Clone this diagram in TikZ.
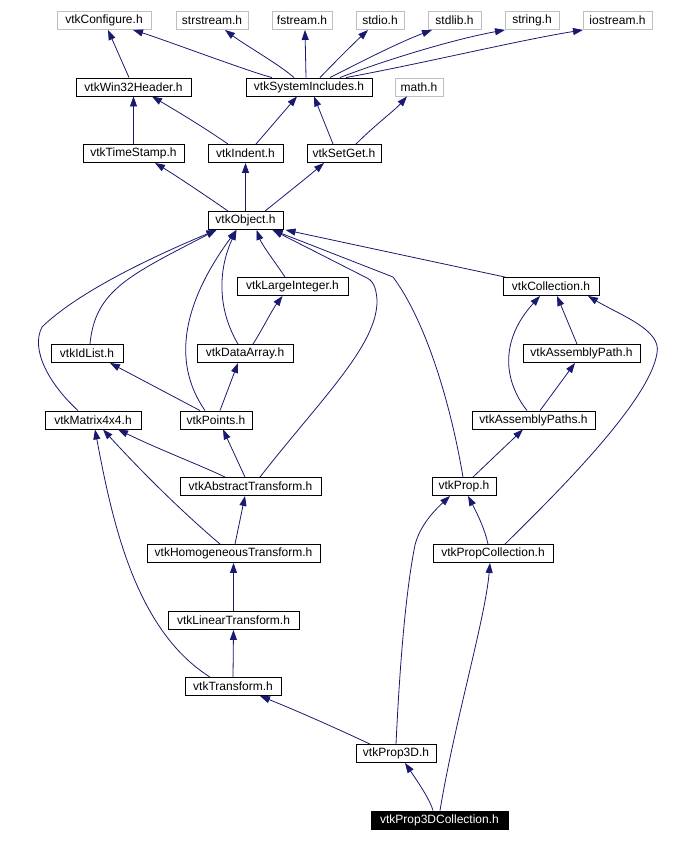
\documentclass[tikz,border=0pt]{standalone}
\usepackage{fontspec}
\setmainfont{Liberation Sans}
\usetikzlibrary{arrows.meta}
\definecolor{edgeblue}{RGB}{25,25,112}
\definecolor{extgray}{RGB}{191,191,191}

\begin{document}
\begin{tikzpicture}[x=1pt,y=-1pt,
  hdr/.style={draw=black, line width=0.9pt, fill=white, inner sep=0pt,
    minimum height=18pt, font=\fontsize{12}{14}\selectfont},
  ext/.style={hdr, draw=extgray},
  cur/.style={hdr, fill=black, text=white},
  dep/.style={draw=edgeblue, line width=0.8pt,
    -{Triangle[length=10pt,width=7pt]}}]
  \useasboundingbox (0,0) rectangle (693,842);

  % 系统头文件（灰框）
  \node[ext, minimum width=94pt] (conf)   at (104,20.5)   {vtkConfigure.h};
  \node[ext, minimum width=72pt] (strs)   at (212,20.5)   {strstream.h};
  \node[ext, minimum width=60pt] (fstr)   at (302,20.5)   {fstream.h};
  \node[ext, minimum width=48pt] (stdio)  at (380,20.5)   {stdio.h};
  \node[ext, minimum width=53pt] (stdlib) at (454.5,20.5) {stdlib.h};
  \node[ext, minimum width=54pt] (string) at (532,20.5)   {string.h};
  \node[ext, minimum width=69pt] (iostr)  at (617.5,20.5) {iostream.h};
  \node[ext, minimum width=48pt] (math)   at (419,87)     {math.h};

  % 内部头文件
  \node[hdr, minimum width=115pt] (win32)    at (133.5,87)    {vtkWin32Header.h};
  \node[hdr, minimum width=126pt] (sysinc)   at (309,87)      {vtkSystemIncludes.h};
  \node[hdr, minimum width=101pt] (tstamp)   at (133.5,153.5) {vtkTimeStamp.h};
  \node[hdr, minimum width=75pt]  (indent)   at (245.5,153.5) {vtkIndent.h};
  \node[hdr, minimum width=74pt]  (setget)   at (344,153.5)   {vtkSetGet.h};
  \node[hdr, minimum width=75pt]  (object)   at (245.5,220.5) {vtkObject.h};
  \node[hdr, minimum width=111pt] (largeint) at (292.5,286.5) {vtkLargeInteger.h};
  \node[hdr, minimum width=96pt]  (coll)     at (551,286.5)   {vtkCollection.h};
  \node[hdr, minimum width=72pt]  (idlist)   at (87,353.5)    {vtkIdList.h};
  \node[hdr, minimum width=96pt]  (darray)   at (245,353.5)   {vtkDataArray.h};
  \node[hdr, minimum width=117pt] (apath)    at (581.5,353.5) {vtkAssemblyPath.h};
  \node[hdr, minimum width=96pt]  (matrix)   at (93,420)      {vtkMatrix4x4.h};
  \node[hdr, minimum width=72pt]  (points)   at (216,420)     {vtkPoints.h};
  \node[hdr, minimum width=123pt] (apaths)   at (533.5,420)   {vtkAssemblyPaths.h};
  \node[hdr, minimum width=141pt] (abstr)    at (250.5,486.5) {vtkAbstractTransform.h};
  \node[hdr, minimum width=64pt]  (prop)     at (464,486.5)   {vtkProp.h};
  \node[hdr, minimum width=173pt] (homog)    at (233.5,553.5) {vtkHomogeneousTransform.h};
  \node[hdr, minimum width=120pt] (pcoll)    at (493,553.5)   {vtkPropCollection.h};
  \node[hdr, minimum width=131pt] (linear)   at (233.5,620.5) {vtkLinearTransform.h};
  \node[hdr, minimum width=96pt]  (transf)   at (233,686.5)   {vtkTransform.h};
  \node[hdr, minimum width=80pt]  (prop3d)   at (396,753.5)   {vtkProp3D.h};
  \node[cur, minimum width=137pt] (p3dcoll)  at (439.5,820)   {vtkProp3DCollection.h};

  % 顶层依赖
  \draw[dep] ([xshift=-4.5]win32.north) -- ([xshift=4]conf.south);
  \draw[dep] ([xshift=-37]sysinc.north) .. controls (250,72) and (165,40) .. ([xshift=29]conf.south);
  \draw[dep] ([xshift=-15]sysinc.north) .. controls (280,65) and (245,45) .. ([xshift=13]strs.south);
  \draw[dep] ([xshift=-3]sysinc.north) -- ([xshift=3]fstr.south);
  \draw[dep] ([xshift=11]sysinc.north) .. controls (335,62) and (352,45) .. ([xshift=-12]stdio.south);
  \draw[dep] ([xshift=21]sysinc.north) .. controls (355,65) and (395,44) .. ([xshift=-22.5]stdlib.south);
  \draw[dep] ([xshift=31]sysinc.north) .. controls (380,62) and (450,40) .. ([xshift=-27]string.south);
  \draw[dep] ([xshift=37]sysinc.north) .. controls (420,64) and (520,40) .. ([xshift=-34.5]iostr.south);

  \draw[dep] (tstamp.north) -- (win32.south);
  \draw[dep] ([xshift=-17.5]indent.north) .. controls (205,128) and (175,110) .. ([xshift=18.5]win32.south);
  \draw[dep] ([xshift=10.5]indent.north) -- ([xshift=-12]sysinc.south);
  \draw[dep] ([xshift=-11]setget.north) -- ([xshift=5]sysinc.south);
  \draw[dep] ([xshift=12]setget.north) .. controls (375,125) and (395,110) .. ([xshift=-12]math.south);

  \draw[dep] ([xshift=-17.5]object.north) .. controls (205,195) and (175,175) .. ([xshift=21.5]tstamp.south);
  \draw[dep] (object.north) -- (indent.south);
  \draw[dep] ([xshift=19.5]object.north) .. controls (285,195) and (310,175) .. ([xshift=-20]setget.south);

  % 指向 vtkObject.h
  \draw[dep] ([xshift=-7.5]largeint.north) .. controls (275,262) and (262,245) .. ([xshift=11]object.south);
  \draw[dep] ([xshift=-46]coll.north) -- ([xshift=40]object.south);
  \draw[dep] ([xshift=-1]prop.north) .. controls (450,400) and (425,320) .. (393,277) -- ([xshift=27]object.south);
  \draw[dep] ([xshift=9.5]abstr.north) .. controls (320,400) and (378,345) .. (377,300)
    .. controls (376,285) and (372,280) .. (365,277) -- ([xshift=27]object.south);
  \draw[dep] ([xshift=3]idlist.north) .. controls (95,290) and (130,275) .. ([xshift=-29]object.south);
  \draw[dep] ([xshift=-15]matrix.north) .. controls (50,385) and (30,350) .. (42,327)
    .. controls (75,295) and (140,262) .. ([xshift=-29]object.south);
  \draw[dep] ([xshift=-11]points.north) .. controls (170,360) and (185,300) .. ([xshift=-9]object.south);
  \draw[dep] ([xshift=-7]darray.north) .. controls (215,305) and (220,265) .. ([xshift=-9]object.south);

  % 中间层
  \draw[dep] ([xshift=-16]points.north) -- ([xshift=23]idlist.south);
  \draw[dep] ([xshift=4]points.north) -- ([xshift=-7]darray.south);
  \draw[dep] ([xshift=8]darray.north) .. controls (262,330) and (272,310) .. ([xshift=-10]largeint.south);
  \draw[dep] ([xshift=-4.5]apath.north) -- ([xshift=6]coll.south);
  \draw[dep] ([xshift=-6.5]apaths.north) .. controls (503,380) and (500,340) .. ([xshift=-11]coll.south);
  \draw[dep] ([xshift=6.5]apaths.north) -- ([xshift=-6.5]apath.south);
  \draw[dep] ([xshift=12]pcoll.north) .. controls (560,490) and (650,400) .. (657,353)
    .. controls (662,330) and (620,315) .. ([xshift=37]coll.south);
  \draw[dep] ([xshift=9]prop.north) -- ([xshift=-10.5]apaths.south);
  \draw[dep] ([xshift=-5]pcoll.north) .. controls (485,530) and (478,515) .. ([xshift=4]prop.south);

  % 变换链
  \draw[dep] ([xshift=-5.5]abstr.north) -- ([xshift=7]points.south);
  \draw[dep] ([xshift=-25.5]abstr.north) .. controls (200,465) and (160,450) .. ([xshift=25]matrix.south);
  \draw[dep] ([xshift=-13.5]homog.north) .. controls (180,510) and (140,470) .. ([xshift=10]matrix.south);
  \draw[dep] ([xshift=1.5]homog.north) -- ([xshift=-5.5]abstr.south);
  \draw[dep] (linear.north) -- (homog.south);
  \draw[dep] (transf.north) -- (linear.south);
  \draw[dep] ([xshift=-23]transf.north) .. controls (135,630) and (112,520) .. ([xshift=2]matrix.south);

  % 底部
  \draw[dep] (prop3d.north) .. controls (400,660) and (406,590) .. (415,545)
    .. controls (420,525) and (435,510) .. ([xshift=-14]prop.south);
  \draw[dep] ([xshift=-26]prop3d.north) .. controls (340,730) and (300,712) .. ([xshift=27]transf.south);
  \draw[dep] ([xshift=-6.5]p3dcoll.north) .. controls (430,800) and (420,785) .. ([xshift=9]prop3d.south);
  \draw[dep] ([xshift=0.5]p3dcoll.north) .. controls (455,720) and (485,620) .. ([xshift=-3]pcoll.south);

\end{tikzpicture}
\end{document}
